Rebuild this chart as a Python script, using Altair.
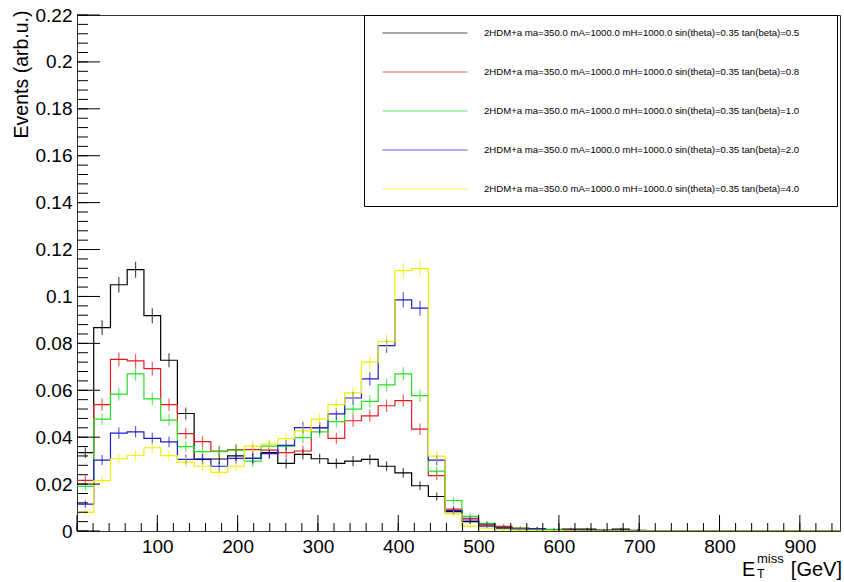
import altair as alt
import pandas as pd

# ---------------- data ----------------
BIN_WIDTH = 1000.0 / 48  # GeV per bin

SERIES = [
    "2HDM+a ma=350.0 mA=1000.0 mH=1000.0 sin(theta)=0.35 tan(beta)=0.5",
    "2HDM+a ma=350.0 mA=1000.0 mH=1000.0 sin(theta)=0.35 tan(beta)=0.8",
    "2HDM+a ma=350.0 mA=1000.0 mH=1000.0 sin(theta)=0.35 tan(beta)=1.0",
    "2HDM+a ma=350.0 mA=1000.0 mH=1000.0 sin(theta)=0.35 tan(beta)=2.0",
    "2HDM+a ma=350.0 mA=1000.0 mH=1000.0 sin(theta)=0.35 tan(beta)=4.0",
]
COLORS = ["#000000", "#e8191c", "#22e022", "#1c1cd0", "#f0f000"]

black = [0.0334, 0.0867, 0.1050, 0.1114, 0.0918, 0.0728, 0.0501, 0.0305, 0.0307, 0.0320,
         0.0310, 0.0334, 0.0288, 0.0327, 0.0308, 0.0288, 0.0298, 0.0305, 0.0276, 0.0248,
         0.0193, 0.0147, 0.0083, 0.0040, 0.0030, 0.0015, 0.0009, 0.0006, 0.0005, 0.0008,
         0.0008, 0.0004, 0.0008, 0.0003, 0.0, 0.0, 0.0, 0.0, 0.0, 0.0,
         0.0, 0.0, 0.0, 0.0, 0.0, 0.0]
red = [0.0216, 0.0539, 0.0732, 0.0725, 0.0692, 0.0539, 0.0415, 0.0381, 0.0341, 0.0347,
       0.0347, 0.0345, 0.0334, 0.0341, 0.0441, 0.0395, 0.0470, 0.0491, 0.0534, 0.0556,
       0.0434, 0.0236, 0.0093, 0.0054, 0.0026, 0.0020, 0.0012, 0.0010, 0.0004, 0.0003,
       0.0, 0.0, 0.0, 0.0, 0.0, 0.0, 0.0, 0.0, 0.0, 0.0,
       0.0, 0.0, 0.0, 0.0, 0.0, 0.0]
green = [0.0190, 0.0477, 0.0584, 0.0670, 0.0563, 0.0473, 0.0360, 0.0338, 0.0338, 0.0345,
         0.0298, 0.0362, 0.0362, 0.0398, 0.0423, 0.0466, 0.0520, 0.0553, 0.0623, 0.0670,
         0.0577, 0.0255, 0.0130, 0.0062, 0.0033, 0.0012, 0.0012, 0.0005, 0.0007, 0.0002,
         0.0, 0.0, 0.0, 0.0, 0.0, 0.0, 0.0, 0.0, 0.0, 0.0,
         0.0, 0.0, 0.0, 0.0, 0.0, 0.0]
blue = [0.0115, 0.0302, 0.0417, 0.0423, 0.0395, 0.0380, 0.0305, 0.0307, 0.0276, 0.0310,
        0.0310, 0.0330, 0.0365, 0.0441, 0.0440, 0.0499, 0.0567, 0.0649, 0.0790, 0.0985,
        0.0950, 0.0302, 0.0087, 0.0047, 0.0021, 0.0012, 0.0008, 0.0010, 0.0003, 0.0002,
        0.0, 0.0, 0.0, 0.0, 0.0, 0.0, 0.0, 0.0, 0.0, 0.0,
        0.0, 0.0, 0.0, 0.0, 0.0, 0.0]
yellow = [0.0079, 0.0215, 0.0308, 0.0322, 0.0355, 0.0321, 0.0294, 0.0276, 0.0250, 0.0276,
          0.0362, 0.0370, 0.0394, 0.0427, 0.0477, 0.0539, 0.0589, 0.0720, 0.0807, 0.1110,
          0.1119, 0.0319, 0.0073, 0.0021, 0.0012, 0.0005, 0.0004, 0.0003, 0.0002, 0.0001,
          0.0, 0.0, 0.0, 0.0, 0.0, 0.0, 0.0, 0.0, 0.0, 0.0,
          0.0, 0.0, 0.0, 0.0, 0.0, 0.0]
SERIES_VALUES = [black, red, green, blue, yellow]

Y_TICKS = [0, 0.02, 0.04, 0.06, 0.08, 0.1, 0.12, 0.14, 0.16, 0.18, 0.2, 0.22]
X_TICKS = [100, 200, 300, 400, 500, 600, 700, 800, 900]
X_MAJOR = [0, 100, 200, 300, 400, 500, 600, 700, 800, 900]
X_MINOR_STEP = 20
Y_MINOR_STEP = 0.004

# ---------------- tables built from the arrays ----------------
step_rows, center_rows = [], []
for name, vals in zip(SERIES, SERIES_VALUES):
    for i, v in enumerate(vals):
        step_rows.append({"series": name, "x": i * BIN_WIDTH, "v": v, "k": i})
        center_rows.append({"series": name, "x": (i + 0.5) * BIN_WIDTH, "v": v})
    step_rows.append({"series": name, "x": len(vals) * BIN_WIDTH, "v": vals[-1], "k": len(vals)})
steps = pd.DataFrame(step_rows)
centers = pd.DataFrame(center_rows)

y_minor = [round(i * Y_MINOR_STEP, 4) for i in range(int(round(0.22 / Y_MINOR_STEP)) + 1)]
x_minor = [i * X_MINOR_STEP for i in range(int(950 / X_MINOR_STEP) + 1)]

W, H = 763, 516
FONT = "Liberation Sans"

xs = alt.Scale(domain=[0, 950], nice=False, zero=False)
ys = alt.Scale(domain=[0, 0.22], nice=False)

x_axis = alt.Axis(
    values=X_TICKS, format="d", labelFont=FONT, labelFontSize=19, labelColor="#000",
    ticks=False, domain=False, grid=False, labelPadding=6, title=None)
y_axis = alt.Axis(
    values=Y_TICKS, format="~g", labelFont=FONT, labelFontSize=19, labelColor="#000",
    ticks=False, domain=False, grid=False, labelPadding=5,
    title="Events (arb.u.)", titleFont=FONT, titleFontSize=19.5, titleFontWeight="normal",
    titleColor="#000", titleAngle=270, titleAlign="right", titleBaseline="top",
    titleX=-65, titleY=-5)

legend = alt.Legend(
    title=" ", titleOrient="right", titlePadding=26, titleFontSize=9,
    orient="none", legendX=287, legendY=0,
    symbolType="M-8.5,0H8.5", symbolSize=100, symbolStrokeWidth=1.2,
    symbolOffset=43, labelOffset=53, padding=12, rowPadding=28,
    labelFont=FONT, labelFontSize=9.6, labelColor="#000", labelLimit=0,
    strokeColor="#000", fillColor="white",
)
color = alt.Color("series:N", scale=alt.Scale(domain=SERIES, range=COLORS),
                  sort=SERIES, legend=legend)

lines = alt.Chart(steps).mark_line(interpolate="step-after", strokeWidth=1.2, clip=True).encode(
    x=alt.X("x:Q", scale=xs, axis=x_axis),
    y=alt.Y("v:Q", scale=ys, axis=y_axis),
    color=color,
    order="k:Q",
)

errs = alt.Chart(centers).mark_tick(orient="vertical", thickness=1.2, clip=True).encode(
    x=alt.X("x:Q", scale=xs, axis=x_axis),
    y=alt.Y("v:Q", scale=ys, axis=y_axis),
    color=color,
    size=alt.Size("v:Q", scale=alt.Scale(type="pow", exponent=0.35, domain=[0, 0.112], range=[0, 16]),
                  legend=None),
)

ytick_minor = alt.Chart(pd.DataFrame({"t": y_minor})).mark_rule(color="#000", strokeWidth=1).encode(
    y=alt.Y("t:Q", scale=ys, axis=y_axis), x=alt.value(0), x2=alt.value(11))
ytick_major = alt.Chart(pd.DataFrame({"t": Y_TICKS})).mark_rule(color="#000", strokeWidth=1).encode(
    y=alt.Y("t:Q", scale=ys, axis=y_axis), x=alt.value(0), x2=alt.value(23))
xtick_minor = alt.Chart(pd.DataFrame({"t": x_minor})).mark_rule(color="#000", strokeWidth=1).encode(
    x=alt.X("t:Q", scale=xs, axis=x_axis), y=alt.value(H), y2=alt.value(H - 8))
xtick_major = alt.Chart(pd.DataFrame({"t": X_MAJOR})).mark_rule(color="#000", strokeWidth=1).encode(
    x=alt.X("t:Q", scale=xs, axis=x_axis), y=alt.value(H), y2=alt.value(H - 16))

def label(txt, x, y, size, align="left"):
    return alt.Chart(pd.DataFrame({"t": [txt]})).mark_text(
        font=FONT, fontSize=size, color="#000", align=align, baseline="alphabetic"
    ).encode(text="t:N", x=alt.value(x), y=alt.value(y))

xtitle = (label("E", 665, 561, 20) + label("T", 680, 563, 12.5) +
          label("miss", 680, 548, 13) + label("[GeV]", 765, 561, 20, align="right"))

chart = alt.layer(
    lines, errs, ytick_minor, ytick_major, xtick_minor, xtick_major, xtitle
).properties(
    width=W, height=H,
    autosize=alt.AutoSizeParams(type="none"),
    padding={"left": 77, "top": 15, "right": 4, "bottom": 51},
    background="white",
).configure_view(stroke="#333", strokeWidth=1)

chart.save("out.html", embed_options={"renderer": "svg", "actions": False})
